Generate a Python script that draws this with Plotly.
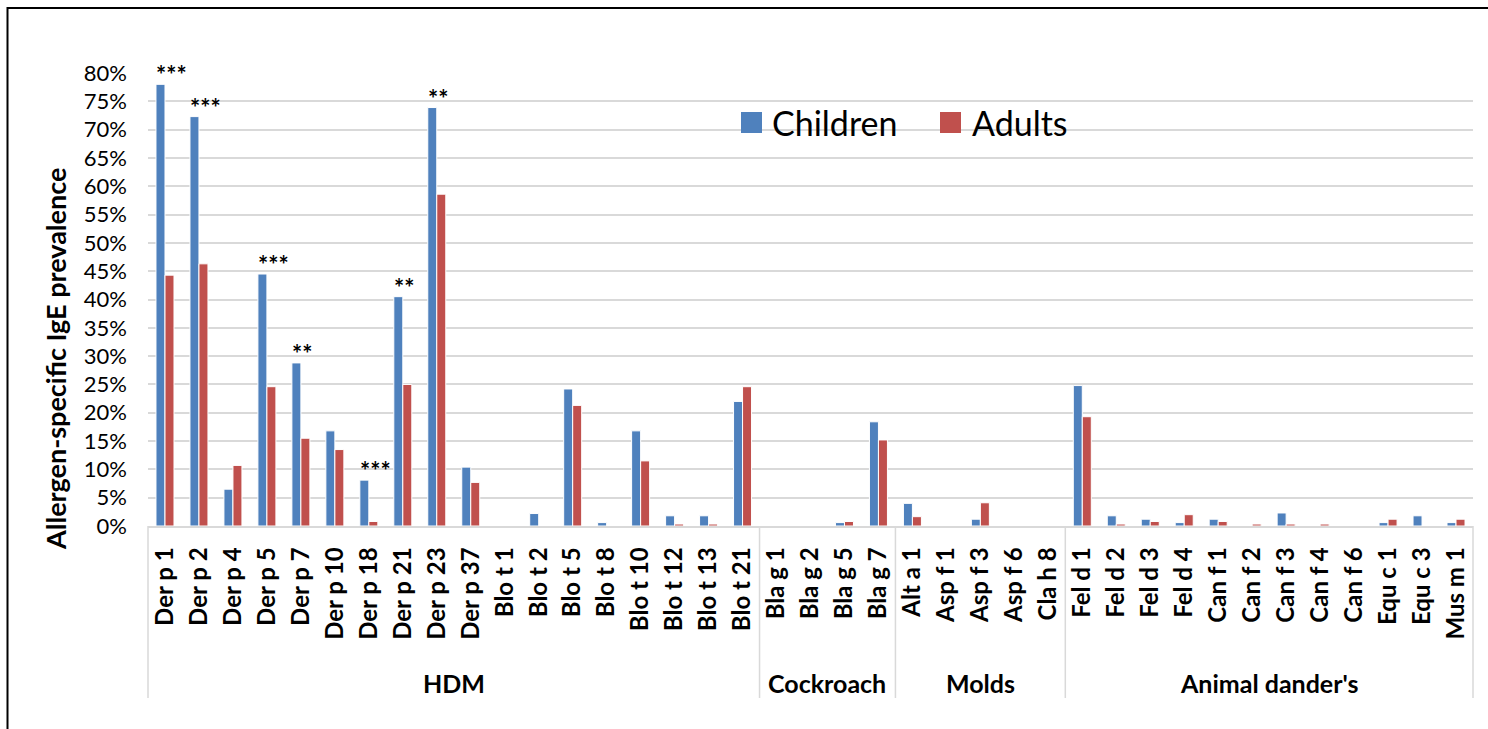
import plotly.graph_objects as go

# Allergen components, grouped by source
groups = ["HDM", "Cockroach", "Molds", "Animal dander's"]
group_members = [
    ["Der p 1", "Der p 2", "Der p 4", "Der p 5", "Der p 7", "Der p 10", "Der p 18",
     "Der p 21", "Der p 23", "Der p 37", "Blo t 1", "Blo t 2", "Blo t 5", "Blo t 8",
     "Blo t 10", "Blo t 12", "Blo t 13", "Blo t 21"],
    ["Bla g 1", "Bla g 2", "Bla g 5", "Bla g 7"],
    ["Alt a 1", "Asp f 1", "Asp f 3", "Asp f 6", "Cla h 8"],
    ["Fel d 1", "Fel d 2", "Fel d 3", "Fel d 4", "Can f 1", "Can f 2", "Can f 3",
     "Can f 4", "Can f 6", "Equ c 1", "Equ c 3", "Mus m 1"],
]
allergens = [a for g in group_members for a in g]

# Sensitisation prevalence (%)
children = [78.0, 72.3, 6.5, 44.5, 28.8, 16.8, 8.1, 40.5, 73.9, 10.4,
            0.0, 2.2, 24.2, 0.6, 16.8, 1.8, 1.8, 22.0,
            0.0, 0.0, 0.6, 18.4,
            4.0, 0.0, 1.2, 0.0, 0.0,
            24.8, 1.8, 1.2, 0.6, 1.2, 0.0, 2.3, 0.0, 0.0, 0.6, 1.8, 0.6]
adults = [44.3, 46.3, 10.7, 24.6, 15.5, 13.5, 0.8, 25.0, 58.6, 7.7,
          0.0, 0.0, 21.3, 0.0, 11.5, 0.35, 0.35, 24.6,
          0.0, 0.0, 0.8, 15.2,
          1.65, 0.0, 4.1, 0.0, 0.0,
          19.3, 0.35, 0.8, 2.0, 0.8, 0.35, 0.35, 0.35, 0.0, 1.2, 0.0, 1.2]

# Significance marks (children vs adults)
sig_labels = {"Der p 1": "***", "Der p 2": "***", "Der p 5": "***", "Der p 7": "**",
              "Der p 18": "***", "Der p 21": "**", "Der p 23": "**"}

BLUE = "#4F81BD"
RED = "#C0504D"
GRID = "#D9D9D9"
FONT = "Lato"

W, H = 1488, 729
ML, MR, MT, MB = 148, 15, 73, 203
PW, PH = W - ML - MR, H - MT - MB


def px_x(px):
    return (px - ML) / PW


def px_y(py):
    return (H - MB - py) / PH


fig = go.Figure()
fig.add_trace(go.Bar(name="Children", x=allergens, y=children,
                     marker=dict(color=BLUE, line=dict(color="white", width=1))))
fig.add_trace(go.Bar(name="Adults", x=allergens, y=adults,
                     marker=dict(color=RED, line=dict(color="white", width=1))))

annotations = []
shapes = []

# asterisks above the children's bars
for name, txt in sig_labels.items():
    i = allergens.index(name)
    annotations.append(dict(x=name, y=children[i], xref="x", yref="y", text=f"<b>{txt}</b>",
                            showarrow=False, xanchor="left", yanchor="bottom",
                            xshift=-11, yshift=-7,
                            font=dict(family=FONT, size=24, color="black")))

# group separators and group labels below the category axis
n = len(allergens)
start = 0
bounds = [0]
for g, members in zip(groups, group_members):
    end = start + len(members)
    bounds.append(end)
    annotations.append(dict(x=(start + end) / 2 / n, y=px_y(683), xref="paper", yref="paper",
                            text=f"<b>{g}</b>", showarrow=False,
                            xanchor="center", yanchor="middle",
                            font=dict(family=FONT, size=25, color="black")))
    start = end
for b in bounds:
    shapes.append(dict(type="line", xref="paper", yref="paper",
                       x0=b / n, x1=b / n, y0=0, y1=px_y(698),
                       line=dict(color=GRID, width=1.5)))

# legend drawn inside the plot area
legend_items = [("Children", BLUE, 741, 770), ("Adults", RED, 940, 970)]
for label, col, sx, tx in legend_items:
    shapes.append(dict(type="rect", xref="paper", yref="paper",
                       x0=px_x(sx), x1=px_x(sx + 21), y0=px_y(133), y1=px_y(112),
                       fillcolor=col, line=dict(width=0)))
    annotations.append(dict(x=px_x(tx), y=px_y(122), xref="paper", yref="paper",
                            text=label, showarrow=False, xanchor="left", yanchor="middle",
                            font=dict(family=FONT, size=34, color="black")))

# y-axis title
annotations.append(dict(x=px_x(55), y=px_y(359), xref="paper", yref="paper",
                        text="<b>Allergen-specific IgE prevalence</b>", showarrow=False,
                        textangle=-90, xanchor="center", yanchor="middle",
                        font=dict(family=FONT, size=27, color="black")))

# chart-area border
shapes.append(dict(type="rect", xref="paper", yref="paper",
                   x0=px_x(7.5), x1=px_x(W + 20), y0=px_y(H + 20), y1=px_y(8),
                   line=dict(color="black", width=2), fillcolor="rgba(0,0,0,0)",
                   layer="above"))

fig.update_layout(
    width=W, height=H,
    margin=dict(l=ML, r=MR, t=MT, b=MB, pad=0),
    paper_bgcolor="white", plot_bgcolor="white",
    barmode="group", bargap=0.47, bargroupgap=0.0,
    showlegend=False,
    font=dict(family=FONT, color="black"),
    annotations=annotations, shapes=shapes,
)
fig.update_xaxes(
    type="category", range=[-0.5, n - 0.5],
    tickangle=-90, tickfont=dict(family=FONT, size=24, color="black", weight="bold"),
    showgrid=False, showline=True, linecolor=GRID, linewidth=1.5,
    ticks="", ticklabelstandoff=10,
)
fig.update_yaxes(
    range=[0, 80], dtick=5, ticksuffix="%",
    tickfont=dict(family=FONT, size=22, color="black"),
    showgrid=True, gridcolor=GRID, gridwidth=1.5,
    zeroline=False, showline=False, ticks="", ticklabelstandoff=20,
)

fig.write_html("out.html")
